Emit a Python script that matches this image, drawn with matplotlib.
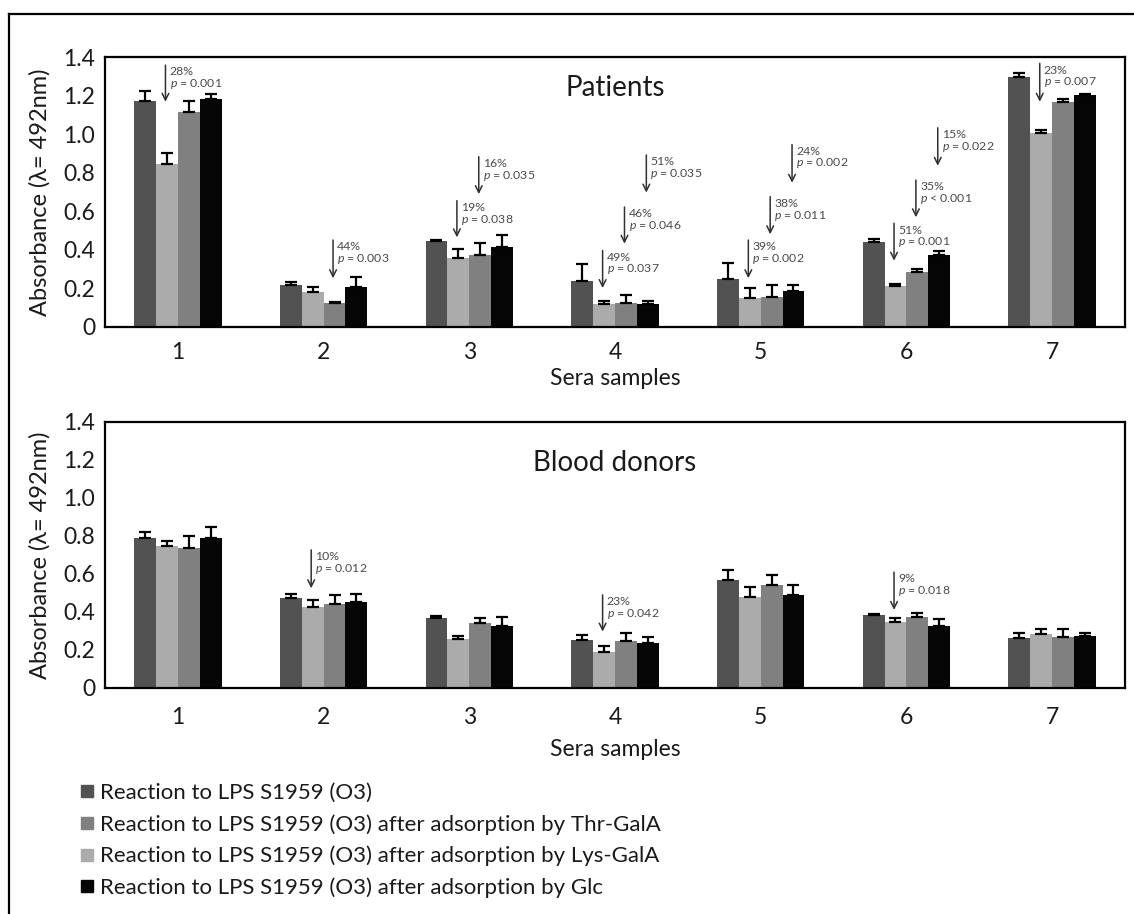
import numpy as np
import matplotlib
matplotlib.use('Agg')
import matplotlib.pyplot as plt
from matplotlib.lines import Line2D
from matplotlib.ticker import FuncFormatter

plt.rcParams['font.family'] = ['Lato', 'DejaVu Sans']
plt.rcParams['mathtext.fontset'] = 'custom'
plt.rcParams['mathtext.it'] = 'Lato:italic'
plt.rcParams['mathtext.rm'] = 'Lato'

# data
samples = [1, 2, 3, 4, 5, 6, 7]
yticks = [0, 0.2, 0.4, 0.6, 0.8, 1.0, 1.2, 1.4]

series_names = ['Reaction to LPS S1959 (O3)',
                'Reaction to LPS S1959 (O3) after adsorption by Thr-GalA',
                'Reaction to LPS S1959 (O3) after adsorption by Lys-GalA',
                'Reaction to LPS S1959 (O3) after adsorption by Glc']

# patients
pat_o3 = [1.170, 0.218, 0.447, 0.240, 0.251, 0.439, 1.298]
pat_o3_err = [0.055, 0.017, 0.005, 0.086, 0.080, 0.019, 0.017]
pat_lys = [0.843, 0.183, 0.356, 0.120, 0.151, 0.215, 1.004]
pat_lys_err = [0.057, 0.022, 0.047, 0.013, 0.050, 0.008, 0.017]
pat_thr = [1.116, 0.123, 0.373, 0.127, 0.155, 0.284, 1.168]
pat_thr_err = [0.057, 0.005, 0.061, 0.038, 0.062, 0.018, 0.012]
pat_glc = [1.182, 0.205, 0.413, 0.117, 0.189, 0.374, 1.201]
pat_glc_err = [0.028, 0.052, 0.062, 0.018, 0.028, 0.019, 0.007]

# blood donors
don_o3 = [0.792, 0.473, 0.367, 0.253, 0.569, 0.385, 0.262]
don_o3_err = [0.030, 0.021, 0.012, 0.026, 0.053, 0.005, 0.026]
don_lys = [0.748, 0.425, 0.257, 0.191, 0.481, 0.349, 0.285]
don_lys_err = [0.028, 0.039, 0.019, 0.032, 0.053, 0.018, 0.026]
don_thr = [0.736, 0.441, 0.341, 0.248, 0.541, 0.376, 0.270]
don_thr_err = [0.065, 0.049, 0.026, 0.040, 0.053, 0.021, 0.042]
don_glc = [0.792, 0.455, 0.328, 0.239, 0.488, 0.328, 0.274]
don_glc_err = [0.058, 0.040, 0.048, 0.031, 0.055, 0.037, 0.014]

# arrows: sample, bar index (0 O3, 1 Lys, 2 Thr, 3 Glc), top, bottom, labels
pat_arr_sample = [1, 2, 3, 3, 4, 4, 4, 5, 5, 5, 6, 6, 6, 7]
pat_arr_bar = [1, 2, 1, 2, 1, 2, 3, 1, 2, 3, 1, 2, 3, 1]
pat_arr_top = [1.358, 0.451, 0.655, 0.883, 0.397, 0.622, 0.892, 0.451, 0.676, 0.946, 0.538, 0.762, 1.033, 1.367]
pat_arr_bot = [1.168, 0.253, 0.465, 0.689, 0.202, 0.432, 0.697, 0.253, 0.481, 0.748, 0.344, 0.569, 0.836, 1.168]
pat_arr_pct = ['28%', '44%', '19%', '16%', '49%', '46%', '51%', '39%', '38%', '24%', '51%', '35%', '15%', '23%']
pat_arr_p = ['= 0.001', '= 0.003', '= 0.038', '= 0.035', '= 0.037', '= 0.046', '= 0.035',
             '= 0.002', '= 0.011', '= 0.002', '= 0.001', '< 0.001', '= 0.022', '= 0.007']

don_arr_sample = [2, 4, 6]
don_arr_bar = [1, 1, 1]
don_arr_top = [0.727, 0.490, 0.610]
don_arr_bot = [0.525, 0.297, 0.411]
don_arr_pct = ['10%', '23%', '9%']
don_arr_p = ['= 0.012', '= 0.042', '= 0.018']

# bar order inside a group: O3, Lys-GalA, Thr-GalA, Glc
bar_colors = ['#525252', '#ababab', '#808080', '#050505']
bw = 0.15
offsets = [-1.5 * bw, -0.5 * bw, 0.5 * bw, 1.5 * bw]

W, H = 1134, 914
fig = plt.figure(figsize=(W / 100, H / 100), dpi=100)
fig.patch.set_facecolor('white')

ax1 = fig.add_axes([105 / W, 1 - 327 / H, 1020 / W, 270 / H])
ax2 = fig.add_axes([105 / W, 1 - 688 / H, 1020 / W, 266 / H])


def panel(ax, vals, errs, arr, title, title_y, xpad, xlab_y):
    x = np.arange(1, len(samples) + 1)
    for i in range(4):
        ax.bar(x + offsets[i], vals[i], width=bw, color=bar_colors[i], zorder=2)
        ax.errorbar(x + offsets[i], vals[i], yerr=[np.zeros(len(x)), errs[i]], fmt='none',
                    ecolor='black', elinewidth=1.6, capsize=4.5, capthick=1.6, zorder=3)
    a_s, a_b, a_t, a_bo, a_pct, a_p = arr
    for s, b, t, bo, pc, pv in zip(a_s, a_b, a_t, a_bo, a_pct, a_p):
        xp = s + offsets[b] - 0.01
        ax.annotate('', xy=(xp, bo), xytext=(xp, t),
                    arrowprops=dict(arrowstyle='->', color='#303030', lw=1.1,
                                    shrinkA=0, shrinkB=0, mutation_scale=12), zorder=4)
        ax.annotate(pc + '\n$p$ ' + pv, xy=(xp, t), xytext=(3, -1), textcoords='offset points',
                    ha='left', va='top', fontsize=8.8, color='#4a4a4a', linespacing=0.95, zorder=4)
    ax.set_xlim(0.5, len(samples) + 0.5)
    ax.set_ylim(0, 1.4)
    ax.set_xticks(x)
    ax.set_xticklabels([str(s) for s in samples])
    ax.set_yticks(yticks)
    ax.yaxis.set_major_formatter(FuncFormatter(lambda v, p: '0' if v == 0 else f'{v:.1f}'))
    ax.tick_params(axis='both', length=0, labelsize=16.5, colors='#1a1a1a')
    ax.tick_params(axis='x', pad=xpad)
    ax.tick_params(axis='y', pad=7)
    for sp in ax.spines.values():
        sp.set_linewidth(1.6)
        sp.set_color('black')
    ax.text(0.5, title_y, title, transform=ax.transAxes, ha='center', va='center',
            fontsize=20, color='#1a1a1a')
    ax.set_xlabel('Sera samples', fontsize=16.5, color='#1a1a1a')
    ax.xaxis.set_label_coords(0.5, xlab_y)
    ax.xaxis.label.set_va('center')
    ax.set_ylabel('Absorbance (λ= 492nm)', fontsize=17, color='#1a1a1a')
    ax.yaxis.set_label_coords(-65 / 1020, 0.5)
    ax.yaxis.label.set_va('center')


panel(ax1, [pat_o3, pat_lys, pat_thr, pat_glc],
      [pat_o3_err, pat_lys_err, pat_thr_err, pat_glc_err],
      (pat_arr_sample, pat_arr_bar, pat_arr_top, pat_arr_bot, pat_arr_pct, pat_arr_p),
      'Patients', 0.885, 11, -52 / 270)
panel(ax2, [don_o3, don_lys, don_thr, don_glc],
      [don_o3_err, don_lys_err, don_thr_err, don_glc_err],
      (don_arr_sample, don_arr_bar, don_arr_top, don_arr_bot, don_arr_pct, don_arr_p),
      'Blood donors', 0.847, 14, -61 / 266)

# legend (order as in the picture: O3, Thr-GalA, Lys-GalA, Glc)
leg_colors = [bar_colors[0], bar_colors[2], bar_colors[1], bar_colors[3]]
handles = [Line2D([], [], marker='s', ls='none', markersize=8, color=c) for c in leg_colors]
fig.legend(handles, series_names, loc='upper left', bbox_to_anchor=(80 / W, 1 - 783 / H),
           frameon=False, fontsize=16, handlelength=0.6, handletextpad=0.3,
           labelspacing=0.5, borderpad=0, borderaxespad=0, labelcolor='#1a1a1a')

# outer frame (only top and left visible)
fig.add_artist(Line2D([9 / W, 1], [1 - 14 / H, 1 - 14 / H], transform=fig.transFigure,
                      color='black', lw=1.6))
fig.add_artist(Line2D([9 / W, 9 / W], [0, 1 - 14 / H], transform=fig.transFigure,
                      color='black', lw=1.6))

fig.savefig('out.png', dpi=100, facecolor='white')
